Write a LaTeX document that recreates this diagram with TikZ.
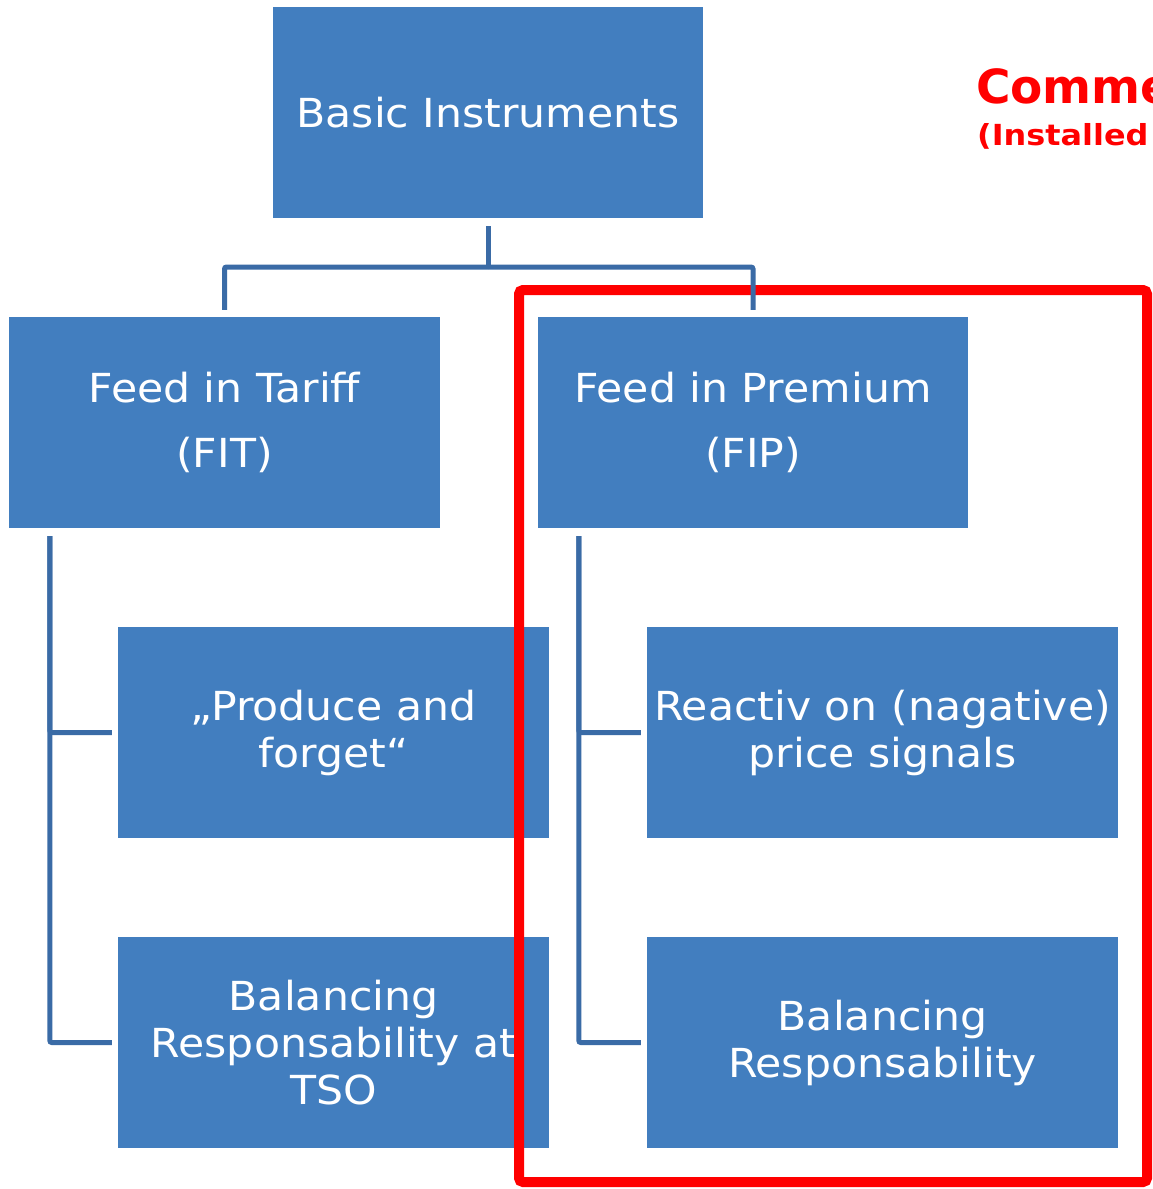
\documentclass[tikz,border=0pt]{standalone}
\usepackage{fontspec}
\setmainfont{DejaVu Sans}[FakeStretch=1.065]
\newfontfamily\titlefont{DejaVu Sans}[FakeStretch=1.0]
\newfontfamily\subtitlefont{DejaVu Sans}[FakeStretch=1.1]
\usetikzlibrary{positioning}
\definecolor{boxblue}{RGB}{66,126,191}
\definecolor{linkblue}{RGB}{58,107,166}
\definecolor{frred}{RGB}{255,0,0}
\begin{document}
\begin{tikzpicture}[x=1pt,y=-1pt,
  box/.style={rectangle, fill=boxblue, draw=none, text=white, align=center,
    minimum width=431pt, minimum height=211pt, inner sep=0pt,
    font=\fontsize{40}{47}\selectfont},
  widebox/.style={box, minimum width=471pt},
  tallbox/.style={box, font=\fontsize{40}{65}\selectfont},
  conn/.style={draw=linkblue, line width=5pt, rounded corners=2pt},
  redframe/.style={rectangle, draw=frred, line width=10pt, rounded corners=4pt,
    minimum width=628pt, minimum height=892pt, inner sep=0pt},
  redtitle/.style={text=frred, inner sep=0pt, anchor=base west}
]
\useasboundingbox (0,0) rectangle (1153,1189);
\fill[white] (0,0) rectangle (1153,1189);

\node[box, minimum width=430pt] (basic) at (488,112.5) {Basic Instruments};
\node[tallbox] (fit) at (224.5,422.5) {Feed in Tariff\\(FIT)};
\node[tallbox, minimum width=430pt] (fip) at (753,422.5) {Feed in Premium\\(FIP)};
\node[box] (produce) at (333.5,732.5) {„Produce and\\forget“};
\node[box] (tso) at (333.5,1042.5) {Balancing\\Responsability at\\TSO};
\node[widebox] (reactiv) at (882.5,732.5) {Reactiv on (nagative)\\price signals};
\node[widebox] (balresp) at (882.5,1042.5) {Balancing\\Responsability};

\node[redframe] (frame) at (833,736) {};

\coordinate (hub) at (488,267);
\draw[conn] ([yshift=-8pt]basic.south) -- (hub);
\draw[conn] (hub) -| ([yshift=7pt]fit.north);
\draw[conn] (hub) -| ([yshift=7pt]fip.north);

\draw[conn] ([xshift=41pt,yshift=-8pt]fit.south west) |- ([xshift=-6pt]produce.west);
\draw[conn] ([xshift=41pt,yshift=-8pt]fit.south west) |- ([xshift=-6pt]tso.west);
\draw[conn] ([xshift=41pt,yshift=-8pt]fip.south west) |- ([xshift=-6pt]reactiv.west);
\draw[conn] ([xshift=41pt,yshift=-8pt]fip.south west) |- ([xshift=-6pt]balresp.west);

\node[redtitle, font=\titlefont\bfseries\fontsize{47}{47}\selectfont] (title) at (976,103) {Comme};
\node[redtitle, font=\subtitlefont\bfseries\fontsize{29}{29}\selectfont] (subtitle) at (977,145) {(Installed};
\end{tikzpicture}
\end{document}
